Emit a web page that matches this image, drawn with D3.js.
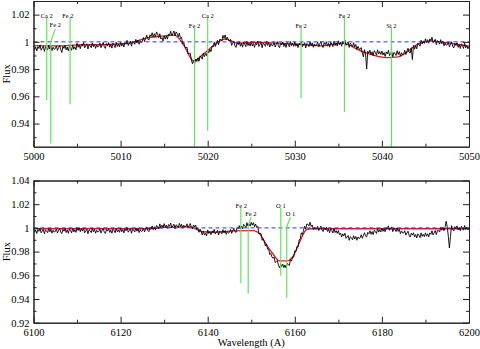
<!DOCTYPE html>
<html>
<head>
<meta charset="utf-8">
<script src="https://cdn.jsdelivr.net/npm/d3@7"></script>
<style>
body { margin: 0; background: #fff; }
svg { display: block; }
svg text { font-family: "Liberation Serif", "Times New Roman", Times, "DejaVu Serif", serif; fill: #000; }
.axis path, .axis line { stroke: #222; stroke-width: 1px; }
.axis text { font-size: 10.5px; }
.lbl { font-size: 6.5px; }
</style>
</head>
<body>
<svg id="chart" width="480" height="349"></svg>
<script>
// ---- panel 1 : 5000 - 5050 A (observed flux every 0.125 A) ----
var start1 = 5000, step1 = 0.125;
var flux1 = [
  0.9973, 0.9943, 0.9961, 0.9933, 0.9965, 0.9951, 0.9978, 0.9939, 0.9953, 0.9969, 0.9930, 0.9963, 0.9956, 0.9940, 0.9975, 0.9947, 0.9968, 0.9935, 0.9960, 0.9945,
  0.9949, 0.9971, 0.9937, 0.9958, 0.9976, 0.9944, 0.9922, 0.9967, 0.9952, 0.9974, 0.9941, 0.9962, 0.9934, 0.9970, 0.9957, 0.9938, 0.9977, 0.9946, 0.9964, 0.9942,
  0.9990, 0.9960, 0.9978, 0.9950, 0.9982, 0.9968, 0.9995, 0.9956, 0.9970, 0.9986, 0.9947, 0.9980, 0.9973, 0.9957, 0.9992, 0.9964, 0.9985, 0.9952, 0.9977, 0.9962,
  0.9969, 0.9991, 0.9957, 0.9978, 0.9996, 0.9964, 0.9952, 0.9987, 0.9972, 0.9994, 0.9961, 0.9982, 0.9954, 0.9990, 0.9977, 0.9958, 0.9997, 0.9966, 0.9984, 0.9962,
  0.9998, 0.9969, 0.9989, 0.9962, 0.9995, 0.9983, 1.0011, 0.9973, 0.9988, 1.0006, 0.9968, 1.0002, 0.9996, 0.9982, 1.0018, 0.9991, 1.0013, 0.9982, 1.0008, 0.9994,
  1.0006, 1.0032, 1.0002, 1.0027, 1.0049, 1.0021, 1.0013, 1.0052, 1.0041, 1.0067, 1.0036, 1.0060, 1.0035, 1.0073, 1.0057, 1.0031, 1.0060, 1.0021, 1.0031, 1.0007,
  1.0043, 1.0020, 1.0044, 1.0020, 1.0058, 1.0048, 1.0079, 1.0044, 1.0062, 1.0080, 1.0043, 1.0073, 1.0061, 1.0037, 1.0064, 1.0024, 1.0033, 0.9985, 0.9995, 0.9965,
  0.9954, 0.9961, 0.9912, 0.9915, 0.9916, 0.9867, 0.9839, 0.9862, 0.9839, 0.9874, 0.9856, 0.9882, 0.9857, 0.9897, 0.9888, 0.9873, 0.9917, 0.9891, 0.9915, 0.9899,
  0.9938, 0.9918, 0.9946, 0.9928, 0.9968, 0.9962, 0.9997, 0.9966, 0.9988, 1.0011, 0.9979, 1.0018, 1.0017, 1.0007, 1.0048, 1.0026, 1.0051, 1.0016, 1.0035, 1.0012,
  1.0006, 1.0018, 0.9974, 0.9989, 1.0003, 0.9971, 0.9959, 0.9994, 0.9979, 1.0001, 0.9968, 0.9989, 0.9961, 0.9997, 0.9984, 0.9965, 1.0004, 0.9973, 0.9991, 0.9969,
  1.0000, 0.9970, 0.9988, 0.9960, 0.9992, 0.9978, 1.0005, 0.9966, 0.9980, 0.9996, 0.9957, 0.9990, 0.9983, 0.9967, 1.0002, 0.9974, 0.9995, 0.9962, 0.9987, 0.9972,
  0.9974, 0.9996, 0.9962, 0.9983, 1.0001, 0.9969, 0.9957, 0.9992, 0.9977, 0.9999, 0.9966, 0.9987, 0.9959, 0.9995, 0.9982, 0.9963, 1.0002, 0.9971, 0.9989, 0.9967,
  0.9998, 0.9968, 0.9986, 0.9958, 0.9990, 0.9976, 1.0003, 0.9964, 0.9978, 0.9994, 0.9955, 0.9988, 0.9981, 0.9965, 1.0000, 0.9972, 0.9993, 0.9960, 0.9985, 0.9970,
  0.9976, 0.9998, 0.9964, 0.9985, 1.0003, 0.9971, 0.9959, 0.9994, 0.9979, 1.0001, 0.9968, 0.9989, 0.9961, 0.9997, 0.9984, 0.9965, 1.0004, 0.9973, 0.9991, 0.9969,
  1.0008, 0.9978, 0.9996, 0.9968, 1.0000, 0.9986, 1.0013, 0.9974, 0.9986, 1.0000, 0.9959, 0.9990, 0.9981, 0.9962, 0.9994, 0.9963, 0.9981, 0.9945, 0.9967, 0.9948,
  0.9944, 0.9958, 0.9917, 0.9890, 0.9943, 0.9911, 0.9800, 0.9932, 0.9917, 0.9939, 0.9906, 0.9927, 0.9899, 0.9935, 0.9922, 0.9903, 0.9942, 0.9911, 0.9929, 0.9907,
  0.9933, 0.9903, 0.9921, 0.9893, 0.9925, 0.9911, 0.9938, 0.9899, 0.9913, 0.9929, 0.9890, 0.9923, 0.9916, 0.9900, 0.9935, 0.9907, 0.9928, 0.9895, 0.9920, 0.9905,
  0.9914, 0.9938, 0.9907, 0.9931, 0.9953, 0.9925, 0.9917, 0.9957, 0.9870, 0.9974, 0.9946, 0.9972, 0.9949, 0.9990, 0.9982, 0.9968, 1.0012, 0.9985, 1.0007, 0.9989,
  1.0023, 0.9996, 1.0016, 0.9990, 1.0022, 1.0008, 1.0034, 0.9994, 1.0006, 1.0019, 0.9979, 1.0010, 1.0001, 0.9983, 1.0016, 0.9986, 1.0005, 0.9970, 0.9993, 0.9976,
  0.9978, 0.9999, 0.9964, 0.9984, 1.0001, 0.9968, 0.9955, 0.9989, 0.9973, 0.9994, 0.9960, 0.9980, 0.9951, 0.9986, 0.9972, 0.9952, 0.9990, 0.9957, 0.9973, 0.9949,
  0.9965
];
var fitWave1 = [5000, 5003, 5005, 5008, 5011, 5013, 5014.5, 5016.2, 5017.2, 5018.4, 5019.5, 5020.8, 5022, 5023.5, 5025.3, 5028, 5031, 5033, 5035.4, 5037.9, 5040.6, 5041.9, 5044.2, 5045.6, 5048.3, 5050];
var fitFlux1 = [0.9972, 0.9970, 0.9978, 0.9980, 0.9990, 1.0030, 1.0040, 1.0050, 0.9980, 0.9860, 0.9910, 0.9980, 1.0020, 0.9990, 0.9997, 0.9990, 0.9980, 0.9970, 0.9990, 0.9925, 0.9884, 0.9890, 0.9985, 1.0005, 0.9985, 0.9969];
var ionName1 = ["Ca 2", "Fe 2", "Fe 2", "Fe 2", "Ca 2", "Fe 2", "Fe 2", "Si 2"];
var ionWave1 = [5001.52, 5001.98, 5004.2, 5018.48, 5020.0, 5030.72, 5035.7, 5041.09];
var ionLabelWave1 = [5001.52, 5002.5, 5003.95, 5018.48, 5020.0, 5030.72, 5035.7, 5041.09];
var ionTop1 = [1.0182, 1.0095, 1.0182, 1.0105, 1.0182, 1.0105, 1.0182, 1.0105];
var ionKnee1 = [null, 1.0001, null, null, null, null, null, null];
var ionBottom1 = [0.9573, 0.9253, 0.9542, 0.923, 0.9348, 0.9586, 0.9484, 0.923];
var xMajor1 = [5000, 5010, 5020, 5030, 5040, 5050];
var xMinor1 = [5005, 5015, 5025, 5035, 5045];
var yMajor1 = [0.94, 0.96, 0.98, 1, 1.02];
var yMinor1 = [0.93, 0.95, 0.97, 0.99, 1.01];

// ---- panel 2 : 6100 - 6200 A (observed flux every 0.25 A) ----
var start2 = 6100, step2 = 0.25;
var flux2 = [
  0.9993, 0.9963, 0.9981, 0.9953, 0.9985, 0.9971, 0.9998, 0.9959, 0.9973, 0.9989, 0.9950, 0.9983, 0.9976, 0.9960, 0.9995, 0.9967, 0.9988, 0.9955, 0.9980, 0.9965,
  0.9969, 0.9991, 0.9957, 0.9978, 0.9996, 0.9964, 0.9952, 0.9987, 0.9972, 0.9994, 0.9961, 0.9982, 0.9954, 0.9990, 0.9977, 0.9958, 0.9997, 0.9966, 0.9984, 0.9962,
  1.0003, 0.9978, 1.0001, 0.9968, 0.9992, 0.9973, 0.9998, 0.9959, 0.9973, 0.9989, 0.9950, 0.9983, 0.9976, 0.9960, 0.9995, 0.9967, 0.9988, 0.9955, 0.9980, 0.9965,
  0.9970, 0.9990, 0.9956, 0.9979, 0.9997, 0.9963, 0.9953, 0.9986, 0.9973, 0.9993, 0.9962, 0.9981, 0.9955, 0.9989, 0.9978, 0.9959, 0.9996, 0.9967, 0.9983, 0.9963,
  0.9998, 0.9968, 0.9986, 0.9958, 0.9990, 0.9976, 1.0003, 0.9964, 0.9978, 0.9994, 0.9955, 0.9988, 0.9981, 0.9965, 1.0000, 0.9972, 0.9993, 0.9960, 0.9985, 0.9970,
  0.9974, 0.9998, 0.9966, 0.9989, 1.0009, 0.9979, 0.9969, 1.0006, 0.9993, 1.0017, 0.9986, 1.0009, 0.9983, 1.0021, 1.0010, 0.9993, 1.0034, 1.0004, 1.0023, 1.0002,
  1.0036, 1.0006, 1.0024, 0.9996, 1.0028, 1.0014, 1.0041, 1.0002, 1.0016, 1.0032, 0.9993, 1.0026, 1.0019, 1.0003, 1.0038, 1.0010, 1.0031, 0.9998, 1.0023, 1.0008,
  1.0012, 1.0034, 1.0000, 1.0021, 1.0037, 1.0004, 0.9991, 1.0024, 1.0007, 1.0024, 0.9986, 0.9999, 0.9963, 0.9990, 0.9968, 0.9941, 0.9974, 0.9939, 0.9955, 0.9933,
  0.9983, 0.9953, 0.9971, 0.9943, 0.9975, 0.9961, 0.9988, 0.9949, 0.9963, 0.9979, 0.9940, 0.9973, 0.9966, 0.9950, 0.9985, 0.9957, 0.9978, 0.9945, 0.9970, 0.9955,
  0.9962, 0.9986, 0.9954, 0.9977, 0.9997, 0.9969, 0.9962, 1.0002, 0.9992, 1.0019, 0.9990, 1.0015, 0.9991, 1.0030, 1.0020, 1.0003, 1.0044, 1.0015, 1.0035, 1.0015,
  1.0048, 1.0023, 1.0044, 1.0010, 1.0032, 1.0004, 1.0013, 0.9954, 0.9953, 0.9952, 0.9895, 0.9908, 0.9881, 0.9847, 0.9865, 0.9820, 0.9823, 0.9775, 0.9785, 0.9755,
  0.9744, 0.9754, 0.9708, 0.9717, 0.9724, 0.9683, 0.9663, 0.9692, 0.9673, 0.9694, 0.9664, 0.9687, 0.9661, 0.9700, 0.9692, 0.9683, 0.9734, 0.9719, 0.9754, 0.9752,
  0.9806, 0.9800, 0.9844, 0.9840, 0.9898, 0.9908, 0.9959, 0.9944, 0.9980, 1.0014, 0.9990, 1.0033, 1.0031, 1.0017, 1.0048, 1.0012, 1.0025, 0.9986, 1.0007, 0.9990,
  0.9992, 1.0013, 0.9978, 0.9998, 1.0015, 0.9982, 0.9969, 1.0002, 0.9985, 1.0005, 0.9970, 0.9989, 0.9959, 0.9993, 0.9978, 0.9957, 0.9994, 0.9961, 0.9977, 0.9953,
  0.9978, 0.9943, 0.9956, 0.9923, 0.9950, 0.9932, 0.9955, 0.9912, 0.9923, 0.9936, 0.9895, 0.9926, 0.9917, 0.9900, 0.9934, 0.9906, 0.9928, 0.9896, 0.9923, 0.9910,
  0.9917, 0.9942, 0.9912, 0.9937, 0.9959, 0.9931, 0.9923, 0.9962, 0.9951, 0.9976, 0.9946, 0.9969, 0.9943, 0.9981, 0.9970, 0.9953, 0.9994, 0.9965, 0.9985, 0.9965,
  0.9998, 0.9971, 0.9992, 0.9967, 1.0002, 0.9990, 1.0018, 0.9980, 0.9994, 1.0009, 0.9968, 0.9998, 0.9988, 0.9969, 1.0001, 0.9970, 0.9988, 0.9952, 0.9974, 0.9956,
  0.9957, 0.9976, 0.9939, 0.9957, 0.9972, 0.9937, 0.9923, 0.9956, 0.9939, 0.9959, 0.9924, 0.9944, 0.9915, 0.9950, 0.9937, 0.9918, 0.9958, 0.9928, 0.9947, 0.9926,
  0.9958, 0.9930, 0.9950, 0.9924, 0.9958, 0.9946, 0.9976, 0.9940, 0.9958, 0.9978, 0.9943, 0.9980, 0.9977, 0.9965, 1.0004, 0.9980, 1.0005, 0.9976, 1.0005, 1.0056,
  1.0010, 0.9930, 0.9830, 0.9930, 1.0019, 0.9987, 0.9975, 1.0010, 0.9995, 1.0017, 0.9984, 1.0005, 0.9977, 1.0013, 1.0000, 0.9981, 1.0020, 0.9989, 1.0007, 0.9985,
  1.0002
];
var fitWave2 = [6100, 6127, 6130, 6136, 6138.5, 6141, 6146, 6150.5, 6151.5, 6152.5, 6153.5, 6155, 6156.5, 6158.3, 6159.8, 6161.2, 6162.7, 6163.8, 6200];
var fitFlux2 = [0.9993, 0.9993, 1.0005, 1.0008, 0.9970, 0.9963, 0.9975, 0.9977, 0.9963, 0.9920, 0.9858, 0.9780, 0.9722, 0.9722, 0.9773, 0.9887, 0.9986, 0.9993, 0.9993];
var ionName2 = ["Fe 2", "Fe 2", "O 1", "O 1"];
var ionWave2 = [6147.61, 6149.3, 6156.78, 6158.15];
var ionLabelWave2 = [6147.7, 6149.9, 6156.8, 6159.0];
var ionTop2 = [1.0168, 1.0090, 1.0168, 1.0090];
var ionKnee2 = [null, 1.0010, null, 1.0010];
var ionBottom2 = [0.9532, 0.9447, 0.9597, 0.941];
var xMajor2 = [6100, 6120, 6140, 6160, 6180, 6200];
var xMinor2 = [6110, 6130, 6150, 6170, 6190];
var yMajor2 = [0.92, 0.94, 0.96, 0.98, 1, 1.02, 1.04];
var yMinor2 = [0.93, 0.95, 0.97, 0.99, 1.01, 1.03];

var svg = d3.select("#chart");
var left = 33.5, right = 469;

function drawPanel(id, opt) {
    var x = d3.scaleLinear().domain(opt.xDomain).range([left, right]);
    var y = d3.scaleLinear().domain(opt.yDomain).range([opt.bottom, opt.top]);
    var g = svg.append("g").attr("id", id);

    g.append("clipPath").attr("id", id + "-clip")
        .append("rect")
        .attr("x", left).attr("y", opt.top)
        .attr("width", right - left).attr("height", opt.bottom - opt.top);
    var plot = g.append("g").attr("clip-path", "url(#" + id + "-clip)");

    var spec = opt.flux.map(function(f, i) { return [opt.start + i * opt.step, f]; });
    var fit = opt.fitWave.map(function(w, i) { return [w, opt.fitFlux[i]]; });

    // fit goes under the spectrum
    plot.append("path")
        .datum(fit)
        .attr("fill", "none")
        .attr("stroke", "#e8141e")
        .attr("stroke-width", 1.3)
        .attr("d", d3.line().curve(d3.curveMonotoneX).x(d => x(d[0])).y(d => y(d[1])));

    plot.append("path")
        .datum(spec)
        .attr("fill", "none")
        .attr("stroke", "#000")
        .attr("stroke-width", 0.9)
        .attr("d", d3.line().x(d => x(d[0])).y(d => y(d[1])));

    plot.append("line")
        .attr("x1", x(opt.xDomain[0])).attr("x2", x(opt.xDomain[1]))
        .attr("y1", y(1)).attr("y2", y(1))
        .attr("stroke", "#2b2bff")
        .attr("stroke-width", 1)
        .attr("stroke-dasharray", "4,3");

    // identified lines
    var ions = opt.names.map(function(n, i) {
        return { name: n, wave: opt.waves[i], lw: opt.labelWaves[i], top: opt.tops[i], knee: opt.knees[i], bottom: opt.bottoms[i] };
    });
    g.selectAll("path.ion")
        .data(ions)
        .join("path")
        .classed("ion", true)
        .attr("fill", "none")
        .attr("stroke", "#5ee65a")
        .attr("stroke-width", 1.2)
        .attr("d", function(d) {
            if (d.knee == null) return "M" + x(d.wave) + "," + y(d.top) + "V" + y(d.bottom);
            return "M" + x(d.lw) + "," + y(d.top) + "L" + x(d.wave) + "," + y(d.knee) + "V" + y(d.bottom);
        });
    g.selectAll("text.lbl")
        .data(ions)
        .join("text")
        .classed("lbl", true)
        .attr("text-anchor", "middle")
        .attr("x", d => x(d.lw))
        .attr("y", d => y(d.top) + (d.knee == null ? 0.5 : -1.5))
        .text(d => d.name);

    // axes, ticks pointing inward on all four sides
    var h = opt.bottom - opt.top;
    g.append("g").attr("class", "axis").attr("transform", "translate(0," + opt.bottom + ")")
        .call(d3.axisBottom(x).tickValues(opt.xMajor).tickSizeInner(-6).tickSizeOuter(0).tickPadding(5.5).tickFormat(d3.format("d")));
    g.append("g").attr("class", "axis").attr("transform", "translate(0," + opt.bottom + ")")
        .call(d3.axisBottom(x).tickValues(opt.xMinor).tickSizeInner(-3).tickSizeOuter(0).tickFormat(""));
    g.append("g").attr("class", "axis").attr("transform", "translate(0," + opt.top + ")")
        .call(d3.axisTop(x).tickValues(opt.xMajor).tickSizeInner(-6).tickSizeOuter(0).tickFormat(""));
    g.append("g").attr("class", "axis").attr("transform", "translate(0," + opt.top + ")")
        .call(d3.axisTop(x).tickValues(opt.xMinor).tickSizeInner(-3).tickSizeOuter(0).tickFormat(""));
    g.append("g").attr("class", "axis").attr("transform", "translate(" + left + ",0)")
        .call(d3.axisLeft(y).tickValues(opt.yMajor).tickSizeInner(-6).tickSizeOuter(0).tickPadding(4).tickFormat(d => String(d)));
    g.append("g").attr("class", "axis").attr("transform", "translate(" + left + ",0)")
        .call(d3.axisLeft(y).tickValues(opt.yMinor).tickSizeInner(-3).tickSizeOuter(0).tickFormat(""));
    g.append("g").attr("class", "axis").attr("transform", "translate(" + right + ",0)")
        .call(d3.axisRight(y).tickValues(opt.yMajor).tickSizeInner(-6).tickSizeOuter(0).tickFormat(""));
    g.append("g").attr("class", "axis").attr("transform", "translate(" + right + ",0)")
        .call(d3.axisRight(y).tickValues(opt.yMinor).tickSizeInner(-3).tickSizeOuter(0).tickFormat(""));

    g.append("text")
        .attr("transform", "translate(10," + (opt.top + h / 2) + ") rotate(-90)")
        .attr("text-anchor", "middle")
        .style("font-size", "10.5px")
        .text("Flux");
}

drawPanel("p1", {
    xDomain: [5000, 5050], yDomain: [0.923, 1.03], top: 1, bottom: 146.7,
    start: start1, step: step1, flux: flux1, fitWave: fitWave1, fitFlux: fitFlux1,
    names: ionName1, waves: ionWave1, labelWaves: ionLabelWave1, tops: ionTop1, knees: ionKnee1, bottoms: ionBottom1,
    xMajor: xMajor1, xMinor: xMinor1, yMajor: yMajor1, yMinor: yMinor1
});
drawPanel("p2", {
    xDomain: [6100, 6200], yDomain: [0.92, 1.04], top: 180.5, bottom: 322.7,
    start: start2, step: step2, flux: flux2, fitWave: fitWave2, fitFlux: fitFlux2,
    names: ionName2, waves: ionWave2, labelWaves: ionLabelWave2, tops: ionTop2, knees: ionKnee2, bottoms: ionBottom2,
    xMajor: xMajor2, xMinor: xMinor2, yMajor: yMajor2, yMinor: yMinor2
});

svg.append("text")
    .attr("x", (left + right) / 2)
    .attr("y", 345.5)
    .attr("text-anchor", "middle")
    .style("font-size", "10.5px")
    .text("Wavelength (A)");
</script>
</body>
</html>
